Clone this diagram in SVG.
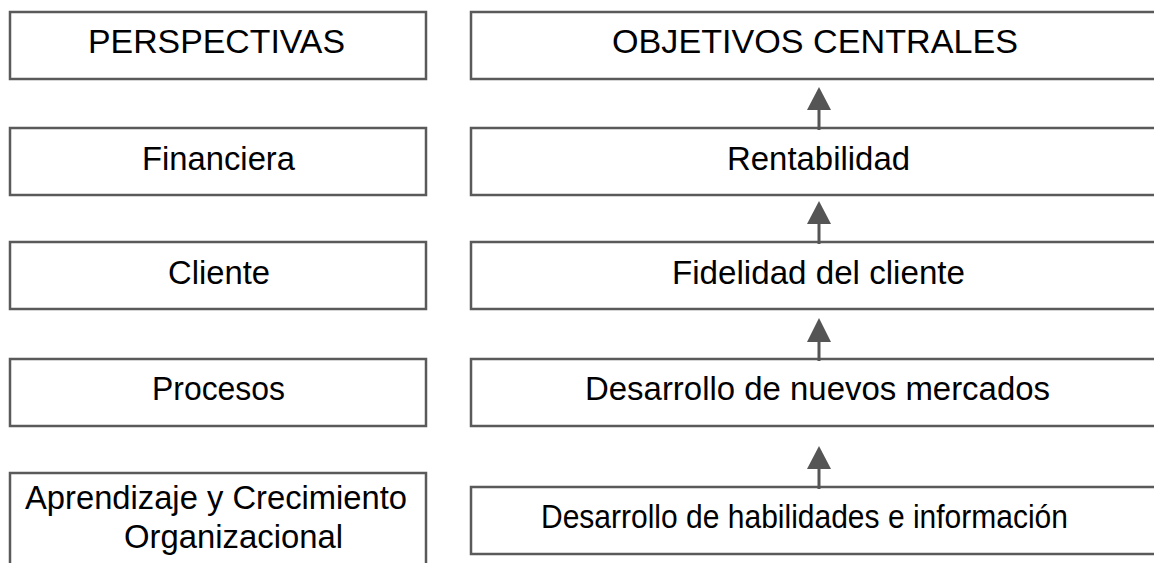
<svg xmlns="http://www.w3.org/2000/svg" width="1154" height="563" viewBox="0 0 1154 563">
<style>
.box{fill:#fff;stroke:#5a5a5a;stroke-width:2.5}
.t{font-family:"Liberation Sans",Arial,sans-serif;font-size:33px;fill:#000}
.arr{stroke:#555;stroke-width:3;fill:none}
.head{fill:#555}
</style>
<rect width="1154" height="563" fill="#fff"/>
<g id="p-head"><rect class="box" x="10" y="12" width="416" height="67"/><text class="t" x="88" y="53" textLength="257" lengthAdjust="spacingAndGlyphs">PERSPECTIVAS</text></g>
<g id="p-fin"><rect class="box" x="10" y="128" width="416" height="67"/><text class="t" x="142" y="170" textLength="153" lengthAdjust="spacingAndGlyphs">Financiera</text></g>
<g id="p-cli"><rect class="box" x="10" y="242" width="416" height="67"/><text class="t" x="168" y="284" textLength="102" lengthAdjust="spacingAndGlyphs">Cliente</text></g>
<g id="p-pro"><rect class="box" x="10" y="359" width="416" height="67"/><text class="t" x="152" y="400" textLength="133" lengthAdjust="spacingAndGlyphs">Procesos</text></g>
<g id="p-apr"><rect class="box" x="10" y="473" width="416" height="110"/><text class="t" x="25" y="509" textLength="382" lengthAdjust="spacingAndGlyphs">Aprendizaje y Crecimiento</text><text class="t" x="124" y="548" textLength="219" lengthAdjust="spacingAndGlyphs">Organizacional</text></g>
<g id="o-head"><rect class="box" x="471" y="12" width="700" height="67"/><text class="t" x="612" y="53" textLength="406" lengthAdjust="spacingAndGlyphs">OBJETIVOS CENTRALES</text></g>
<g id="o-ren"><rect class="box" x="471" y="128" width="700" height="67"/><text class="t" x="727" y="170" textLength="183" lengthAdjust="spacingAndGlyphs">Rentabilidad</text></g>
<g id="o-fid"><rect class="box" x="471" y="242" width="700" height="67"/><text class="t" x="672" y="284" textLength="293" lengthAdjust="spacingAndGlyphs">Fidelidad del cliente</text></g>
<g id="o-mer"><rect class="box" x="471" y="359" width="700" height="67"/><text class="t" x="585" y="400" textLength="465" lengthAdjust="spacingAndGlyphs">Desarrollo de nuevos mercados</text></g>
<g id="o-hab"><rect class="box" x="471" y="487" width="700" height="67"/><text class="t" x="541" y="528" textLength="527" lengthAdjust="spacingAndGlyphs">Desarrollo de habilidades e información</text></g>
<g id="connectors">
<line class="arr" x1="819" y1="108" x2="819" y2="130"/><polygon class="head" points="819,87 807,110 831,110"/>
<line class="arr" x1="819" y1="222" x2="819" y2="244"/><polygon class="head" points="819,201 807,224 831,224"/>
<line class="arr" x1="819" y1="340" x2="819" y2="361"/><polygon class="head" points="819,318 807,342 831,342"/>
<line class="arr" x1="819" y1="467" x2="819" y2="489"/><polygon class="head" points="819,446 807,469 831,469"/>
</g>
</svg>
